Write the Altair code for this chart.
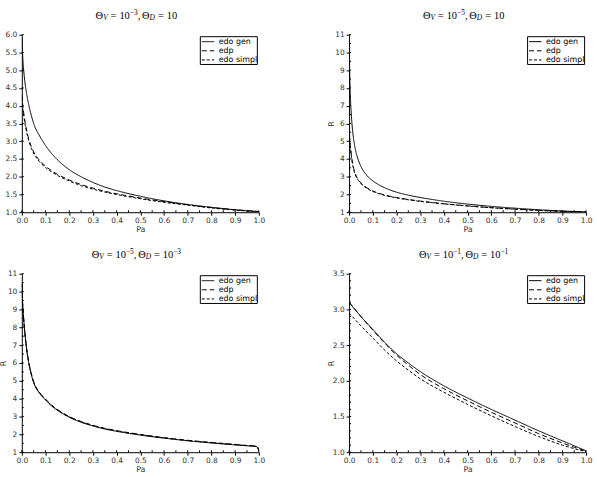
import altair as alt
import pandas as pd

SERIES = ["edo gen", "edp", "edo simpl"]
DASHES = [[1, 0], [5, 3], [3, 2]]

# Pa sample points
PA = [0.0, 0.005, 0.01, 0.02, 0.03, 0.04, 0.05, 0.075, 0.1, 0.125, 0.15, 0.2,
      0.25, 0.3, 0.35, 0.4, 0.5, 0.6, 0.7, 0.8, 0.9, 1.0]
PA2 = [0.0, 0.0025, 0.005, 0.01, 0.02, 0.03, 0.04, 0.05, 0.075, 0.1, 0.125, 0.15,
       0.2, 0.25, 0.3, 0.35, 0.4, 0.5, 0.6, 0.7, 0.8, 0.9, 1.0]
PA3 = [0.0, 0.0025, 0.005, 0.01, 0.02, 0.03, 0.04, 0.05, 0.075, 0.1, 0.125, 0.15,
       0.2, 0.25, 0.3, 0.35, 0.4, 0.5, 0.6, 0.7, 0.8, 0.9, 0.95, 0.98, 0.99,
       0.995, 1.0]
PA4 = [0.0, 0.05, 0.1, 0.15, 0.2, 0.25, 0.3, 0.4, 0.5, 0.6, 0.7, 0.8, 0.9, 0.95, 1.0]

# Theta_V = 1e-3, Theta_D = 10
p1_gen = [5.9, 5.25, 4.85, 4.35, 4.0, 3.73, 3.5, 3.15, 2.88, 2.66, 2.48, 2.2,
          2.0, 1.84, 1.71, 1.61, 1.45, 1.32, 1.22, 1.14, 1.07, 1.02]
p1_edp = [4.3, 3.95, 3.7, 3.32, 3.05, 2.85, 2.7, 2.46, 2.3, 2.17, 2.07, 1.91,
          1.78, 1.68, 1.59, 1.52, 1.4, 1.3, 1.21, 1.13, 1.07, 1.02]
p1_simpl = [4.2, 3.87, 3.63, 3.26, 3.0, 2.8, 2.66, 2.42, 2.26, 2.14, 2.04, 1.88,
            1.75, 1.65, 1.57, 1.5, 1.38, 1.28, 1.2, 1.12, 1.06, 1.01]

# Theta_V = 1e-5, Theta_D = 10
p2_gen = [10.5, 8.8, 7.7, 6.4, 5.05, 4.35, 3.9, 3.58, 3.07, 2.77, 2.55, 2.38,
          2.13, 1.96, 1.83, 1.72, 1.62, 1.46, 1.33, 1.23, 1.14, 1.07, 1.02]
p2_edp = [5.8, 5.2, 4.8, 4.2, 3.45, 3.05, 2.82, 2.65, 2.38, 2.2, 2.07, 1.97,
          1.83, 1.72, 1.63, 1.55, 1.48, 1.36, 1.26, 1.18, 1.11, 1.05, 1.02]
p2_simpl = [5.6, 5.05, 4.68, 4.1, 3.38, 3.0, 2.78, 2.61, 2.35, 2.17, 2.05, 1.95,
            1.81, 1.7, 1.61, 1.54, 1.47, 1.35, 1.25, 1.17, 1.1, 1.05, 1.01]

# Theta_V = 1e-5, Theta_D = 1e-3
p3_gen = [10.5, 9.6, 9.0, 8.1, 6.8, 5.95, 5.35, 4.9, 4.3, 3.93, 3.6, 3.35,
          2.96, 2.68, 2.47, 2.3, 2.17, 1.96, 1.79, 1.64, 1.52, 1.41, 1.36, 1.33,
          1.31, 1.27, 1.05]
p3_edp = [10.4, 9.6, 9.0, 8.15, 6.85, 6.0, 5.4, 4.95, 4.35, 3.98, 3.65, 3.4,
          3.0, 2.72, 2.51, 2.34, 2.21, 2.0, 1.82, 1.67, 1.55, 1.44, 1.38, 1.35,
          1.33, 1.29, 1.06]
p3_simpl = [10.4, 9.55, 8.95, 8.1, 6.8, 5.97, 5.37, 4.92, 4.32, 3.95, 3.62, 3.37,
            2.98, 2.7, 2.49, 2.32, 2.19, 1.98, 1.8, 1.65, 1.53, 1.42, 1.37, 1.34,
            1.32, 1.28, 1.05]

# Theta_V = 1e-1, Theta_D = 1e-1
p4_gen = [3.1, 2.9, 2.72, 2.54, 2.38, 2.25, 2.13, 1.93, 1.76, 1.6, 1.45, 1.3,
          1.16, 1.09, 1.02]
p4_edp = [3.1, 2.9, 2.71, 2.53, 2.36, 2.22, 2.09, 1.89, 1.72, 1.56, 1.41, 1.26,
          1.13, 1.07, 1.02]
p4_simpl = [2.95, 2.77, 2.6, 2.43, 2.28, 2.15, 2.03, 1.84, 1.67, 1.51, 1.36, 1.22,
            1.1, 1.05, 1.01]

# axis tick values
X_TICKS = [0.0, 0.1, 0.2, 0.3, 0.4, 0.5, 0.6, 0.7, 0.8, 0.9, 1.0]
X_MINOR_STEP = 0.05
Y1_TICKS = [1.0, 1.5, 2.0, 2.5, 3.0, 3.5, 4.0, 4.5, 5.0, 5.5, 6.0]
Y2_TICKS = [1, 2, 3, 4, 5, 6, 7, 8, 9, 10, 11]
Y4_TICKS = [1.0, 1.5, 2.0, 2.5, 3.0, 3.5]

# exponents in the panel titles (Theta_V, Theta_D); "" means plain 10
TITLE_EXP = [("−3", ""), ("−5", ""), ("−5", "−3"), ("−1", "−1")]

W = 239
LABEL_FONT = "DejaVu Sans"
MATH_FONT = "Liberation Serif"
MAIN_SIZE = 10.5
SCRIPT_SIZE = 7.5

# advance widths (em) for the serif math glyphs
ADV = {"Θ": 0.722, "=": 0.564, "0": 0.5, "1": 0.5, "3": 0.5, "5": 0.5,
       ",": 0.25, "−": 0.564, "V": 0.611, "D": 0.722}


def title_segments(v_exp, d_exp):
    segs = [("Θ", "n"), ("V", "sub"), (0.28, "gap"), ("=", "n"), (0.28, "gap"),
            ("10", "n")]
    if v_exp:
        segs.append((v_exp, "sup"))
    segs += [(",", "n"), (0.17, "gap"), ("Θ", "n"), ("D", "sub"), (0.28, "gap"),
             ("=", "n"), (0.28, "gap"), ("10", "n")]
    if d_exp:
        segs.append((d_exp, "sup"))
    return segs


def title_layers(segs, center_x, base_y):
    def width(seg):
        txt, role = seg
        if role == "gap":
            return txt * MAIN_SIZE
        size = MAIN_SIZE if role == "n" else SCRIPT_SIZE
        return sum(ADV.get(c, 0.5) for c in txt) * size

    total = sum(width(s) for s in segs)
    x = center_x - total / 2
    layers = []
    for seg in segs:
        txt, role = seg
        if role != "gap":
            size = MAIN_SIZE if role == "n" else SCRIPT_SIZE
            dy = {"n": 0, "sub": 1.6, "sup": -3.6}[role]
            layers.append(
                alt.Chart(pd.DataFrame({"t": [txt]}))
                .mark_text(font=MATH_FONT, fontSize=size, align="left",
                           baseline="alphabetic", color="black",
                           fontStyle="italic" if role == "sub" else "normal")
                .encode(x=alt.value(x), y=alt.value(base_y + dy), text="t:N")
            )
        x += width(seg)
    return layers


def frange(lo, hi, step):
    n = int(round((hi - lo) / step))
    return [round(lo + i * step, 6) for i in range(n + 1)]


def make_panel(pa, gen, edp, simpl, yticks, yfmt, ystep_minor, height,
               exps, ytitle):
    ydom = [yticks[0], yticks[-1]]
    rows = []
    for name, vals in zip(SERIES, [gen, edp, simpl]):
        for p, v in zip(pa, vals):
            rows.append({"Pa": p, "R": v, "serie": name})
    df = pd.DataFrame(rows)

    x_axis = alt.Axis(values=X_TICKS, format=".1f", title="Pa",
                      labelFont=LABEL_FONT, labelFontSize=7.5, labelColor="#333",
                      labelPadding=1.5, labelFlush=False, labelOverlap=False,
                      tickSize=3, tickColor="black", domainColor="black",
                      grid=False, titleFont=LABEL_FONT, titleFontSize=8,
                      titleFontWeight="normal", titleColor="#333", titlePadding=1)
    y_kwargs = dict(values=yticks, format=yfmt, labelFont=LABEL_FONT,
                    labelFontSize=7.5, labelColor="#333", labelPadding=2,
                    labelFlush=False, labelOverlap=False, tickSize=3,
                    tickColor="black", domainColor="black", grid=False,
                    titleFont=LABEL_FONT, titleFontSize=8,
                    titleFontWeight="normal", titleColor="#333")
    if ytitle:
        y_axis = alt.Axis(title="R", titleX=-18, titleY=height / 2,
                          titleBaseline="middle", titleAngle=270, **y_kwargs)
    else:
        y_axis = alt.Axis(title=None, **y_kwargs)

    xs = alt.Scale(domain=[0, 1], nice=False, zero=False)
    ys = alt.Scale(domain=ydom, nice=False, zero=False)

    lines = alt.Chart(df).mark_line(color="black", strokeWidth=1, clip=True,
                                    interpolate="monotone").encode(
        x=alt.X("Pa:Q", scale=xs, axis=x_axis),
        y=alt.Y("R:Q", scale=ys, axis=y_axis),
        strokeDash=alt.StrokeDash("serie:N",
                                  scale=alt.Scale(domain=SERIES, range=DASHES),
                                  legend=None),
        order="Pa:Q",
    )

    # small inward ticks along both axes
    xminor = alt.Chart(pd.DataFrame({"Pa": frange(0, 1, X_MINOR_STEP)})).mark_rule(
        color="black", strokeWidth=1).encode(
        x=alt.X("Pa:Q", scale=xs, axis=x_axis),
        y=alt.value(height), y2=alt.value(height - 2))
    yminor = alt.Chart(pd.DataFrame({"R": frange(ydom[0], ydom[1], ystep_minor)})).mark_rule(
        color="black", strokeWidth=1).encode(
        y=alt.Y("R:Q", scale=ys, axis=y_axis),
        x=alt.value(0), x2=alt.value(2))

    # legend box
    one = pd.DataFrame({"k": [0]})
    box = alt.Chart(one).mark_rect(fill="white", stroke="black", strokeWidth=1).encode(
        x=alt.value(180), x2=alt.value(237.5), y=alt.value(2), y2=alt.value(30))
    legend = [box]
    for i, (name, dash) in enumerate(zip(SERIES, DASHES)):
        ry = 7 + 9.2 * i
        legend.append(alt.Chart(one).mark_rule(color="black", strokeWidth=1,
                                               strokeDash=dash).encode(
            x=alt.value(181.5), x2=alt.value(194), y=alt.value(ry)))
        legend.append(alt.Chart(pd.DataFrame({"t": [name]})).mark_text(
            font=LABEL_FONT, fontSize=8, align="left", baseline="middle",
            color="black").encode(x=alt.value(198.5), y=alt.value(ry), text="t:N"))

    titles = title_layers(title_segments(*exps), W / 2 - 4, -16)

    return alt.layer(lines, xminor, yminor, *legend, *titles).properties(
        width=W, height=height)


p1 = make_panel(PA, p1_gen, p1_edp, p1_simpl, Y1_TICKS, ".1f", 0.5, 179,
                TITLE_EXP[0], False)
p2 = make_panel(PA2, p2_gen, p2_edp, p2_simpl, Y2_TICKS, "d", 0.5, 179,
                TITLE_EXP[1], True)
p3 = make_panel(PA3, p3_gen, p3_edp, p3_simpl, Y2_TICKS, "d", 0.5, 180,
                TITLE_EXP[2], True)
p4 = make_panel(PA4, p4_gen, p4_edp, p4_simpl, Y4_TICKS, ".1f", 0.1, 180,
                TITLE_EXP[3], True)

chart = alt.concat(p1, p2, p3, p4, columns=2,
                   spacing={"row": 62, "column": 91}, bounds="flush").configure_view(
    stroke=None).properties(padding={"left": 0, "top": 7, "right": 5, "bottom": 5},
                            background="white")

chart.save("out.html", embed_options={"renderer": "svg", "actions": False})
